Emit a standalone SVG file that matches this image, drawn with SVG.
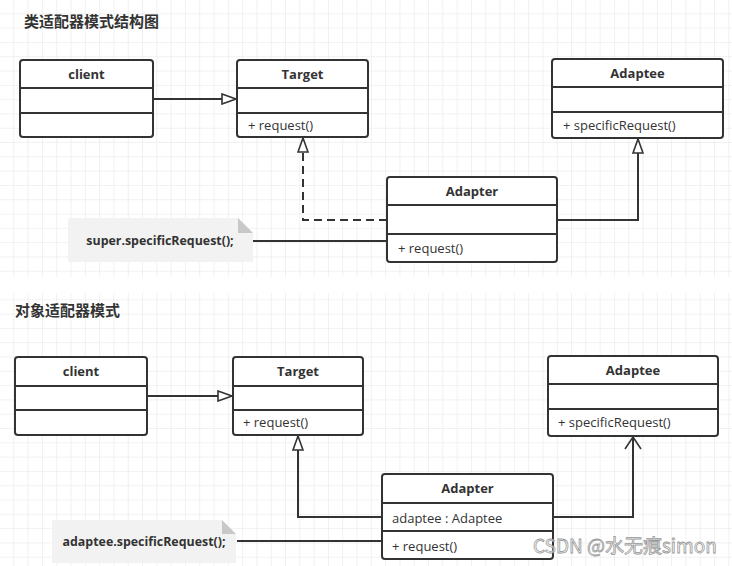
<svg xmlns="http://www.w3.org/2000/svg" width="732" height="566" viewBox="0 0 732 566">
<defs>
<pattern id="grid" width="14.3" height="14.3" patternUnits="userSpaceOnUse">
<path d="M14.3 0V14.3M0 14.3H14.3" fill="none" stroke="#e3e3e3" stroke-width="1"/>
</pattern>
<marker id="tri" viewBox="0 0 16 12" refX="15" refY="6" markerWidth="16" markerHeight="12" markerUnits="userSpaceOnUse" orient="auto">
<path d="M1 1L15 6L1 11Z" fill="#fff" stroke="#333" stroke-width="1.6"/>
</marker>
<marker id="open" viewBox="0 0 14 18" refX="13" refY="9" markerWidth="14" markerHeight="18" markerUnits="userSpaceOnUse" orient="auto">
<path d="M1 1L13 9L1 17" fill="none" stroke="#333" stroke-width="1.6"/>
</marker>
<style>
.box{fill:#fff;stroke:#333;stroke-width:2}
.sep{stroke:#333;stroke-width:2}
.hd{font-family:"Open Sans","Noto Sans CJK SC",sans-serif;font-size:13px;font-weight:bold;fill:#333;text-anchor:middle}
.op{font-family:"Open Sans","Noto Sans CJK SC",sans-serif;font-size:13px;fill:#333}
.title{font-family:"Noto Sans CJK SC",sans-serif;font-size:15px;font-weight:bold;fill:#333}
.note{fill:#f2f2f2}
.fold{fill:#c8c8c8}
.nt{font-family:"Open Sans","Noto Sans CJK SC",sans-serif;font-size:12.4px;font-weight:bold;fill:#333;text-anchor:middle}
.ln{fill:none;stroke:#333;stroke-width:2}
</style>
</defs>
<rect width="732" height="566" fill="#fff"/>
<rect x="0" y="0" width="732" height="277" fill="url(#grid)"/>
<rect x="0" y="293" width="732" height="273" fill="url(#grid)"/>

<text class="title" x="24" y="27">类适配器模式结构图</text>
<text class="title" x="15" y="316">对象适配器模式</text>

<g id="connectors">
<path class="ln" d="M153 99H236" marker-end="url(#tri)"/>
<path class="ln" d="M387 220H303V138" stroke-dasharray="8 5" marker-end="url(#tri)"/>
<path class="ln" d="M557 220H638V139" marker-end="url(#tri)"/>
<path class="ln" d="M253 241H387"/>
<path class="ln" d="M147 396H232" marker-end="url(#tri)"/>
<path class="ln" d="M382 517H298V436" marker-end="url(#tri)"/>
<path class="ln" d="M553 517H633V437" marker-end="url(#open)"/>
<path class="ln" d="M237 541H382"/>
</g>

<g id="client1">
<rect class="box" x="20" y="60" width="133" height="77" rx="3"/>
<line class="sep" x1="20" y1="88" x2="153" y2="88"/>
<line class="sep" x1="20" y1="113" x2="153" y2="113"/>
<text class="hd" x="86.5" y="79">client</text>
</g>
<g id="target1">
<rect class="box" x="237" y="60" width="131" height="77" rx="3"/>
<line class="sep" x1="237" y1="88" x2="368" y2="88"/>
<line class="sep" x1="237" y1="113" x2="368" y2="113"/>
<text class="hd" x="302.5" y="79">Target</text>
<text class="op" x="248" y="130">+ request()</text>
</g>
<g id="adaptee1">
<rect class="box" x="552" y="59" width="171" height="79" rx="3"/>
<line class="sep" x1="552" y1="87" x2="723" y2="87"/>
<line class="sep" x1="552" y1="112" x2="723" y2="112"/>
<text class="hd" x="637.5" y="78">Adaptee</text>
<text class="op" x="563" y="130">+ specificRequest()</text>
</g>
<g id="adapter1">
<rect class="box" x="387" y="177" width="170" height="85" rx="3"/>
<line class="sep" x1="387" y1="205" x2="557" y2="205"/>
<line class="sep" x1="387" y1="234" x2="557" y2="234"/>
<text class="hd" x="472" y="196">Adapter</text>
<text class="op" x="398" y="253">+ request()</text>
</g>
<g id="note1">
<path class="note" d="M68 218H238L253 233V262H68Z"/>
<path class="fold" d="M238 218L253 233H238Z"/>
<text class="nt" x="160" y="245">super.specificRequest();</text>
</g>

<g id="client2">
<rect class="box" x="15" y="357" width="132" height="78" rx="3"/>
<line class="sep" x1="15" y1="386" x2="147" y2="386"/>
<line class="sep" x1="15" y1="410" x2="147" y2="410"/>
<text class="hd" x="81" y="376">client</text>
</g>
<g id="target2">
<rect class="box" x="233" y="357" width="130" height="78" rx="3"/>
<line class="sep" x1="233" y1="386" x2="363" y2="386"/>
<line class="sep" x1="233" y1="410" x2="363" y2="410"/>
<text class="hd" x="298" y="376">Target</text>
<text class="op" x="243" y="427">+ request()</text>
</g>
<g id="adaptee2">
<rect class="box" x="548" y="356" width="170" height="80" rx="3"/>
<line class="sep" x1="548" y1="384" x2="718" y2="384"/>
<line class="sep" x1="548" y1="409" x2="718" y2="409"/>
<text class="hd" x="633" y="375">Adaptee</text>
<text class="op" x="558" y="427">+ specificRequest()</text>
</g>
<g id="adapter2">
<rect class="box" x="382" y="474" width="171" height="85" rx="3"/>
<line class="sep" x1="382" y1="503" x2="553" y2="503"/>
<line class="sep" x1="382" y1="531" x2="553" y2="531"/>
<text class="hd" x="467.5" y="493">Adapter</text>
<text class="op" x="392" y="523">adaptee : Adaptee</text>
<text class="op" x="392" y="551">+ request()</text>
</g>
<g id="note2">
<path class="note" d="M52 520H222L236 534V563H52Z"/>
<path class="fold" d="M222 520L236 534H222Z"/>
<text class="nt" x="144" y="546">adaptee.specificRequest();</text>
</g>

<text x="533" y="553" font-family="'Noto Sans CJK SC',sans-serif" font-size="19" fill="#fff" fill-opacity="0.6" stroke="#999" stroke-width="0.8">CSDN @水无痕simon</text>
</svg>
